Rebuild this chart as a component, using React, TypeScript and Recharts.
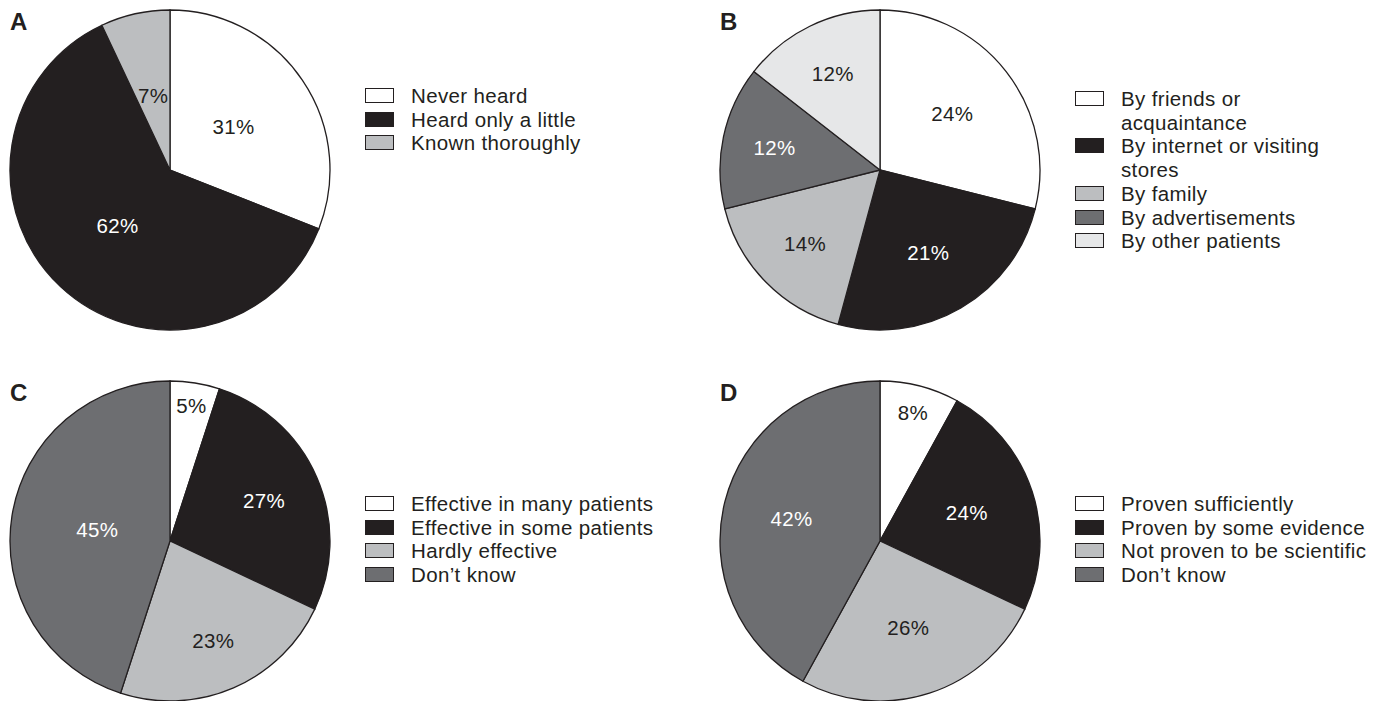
import React from "react";
import { PieChart, Pie, Cell, Legend } from "recharts";

const WHITE = "#ffffff";
const BLACK = "#231f20";
const GRAY = "#bcbec0";
const DARK = "#6d6e71";
const PALE = "#e6e7e8";
const INK = "#231f20";
const FONT = '"Liberation Sans", Arial, Helvetica, sans-serif';

// Panel A: awareness
const aNames = ["Never heard", "Heard only a little", "Known thoroughly"];
const aValues = [31, 62, 7];
const aColors = [WHITE, BLACK, GRAY];

// Panel B: source of information
const bNames = [
  "By friends or acquaintance",
  "By internet or visiting stores",
  "By family",
  "By advertisements",
  "By other patients",
];
const bValues = [24, 21, 14, 12, 12];
const bColors = [WHITE, BLACK, GRAY, DARK, PALE];

// Panel C: perceived effectiveness
const cNames = [
  "Effective in many patients",
  "Effective in some patients",
  "Hardly effective",
  "Don\u2019t know",
];
const cValues = [5, 27, 23, 45];
const cColors = [WHITE, BLACK, GRAY, DARK];

// Panel D: scientific evidence
const dNames = [
  "Proven sufficiently",
  "Proven by some evidence",
  "Not proven to be scientific",
  "Don\u2019t know",
];
const dValues = [8, 24, 26, 42];
const dColors = [WHITE, BLACK, GRAY, DARK];

const RADIAN = Math.PI / 180;
const isDarkFill = (c: string) => c === BLACK || c === DARK;

const TEXT_STYLE = { fontFamily: FONT, fontSize: 20.5, letterSpacing: 0.35 };

interface PanelProps {
  letter: string;
  names: string[];
  values: number[];
  colors: string[];
  left: number;
  top: number;
  labelR: number;
  labelSlope?: number;
  smallR?: number;
  legendTop: number;
  wrapWidth?: number;
}

function LegendBlock({ names, colors, wrapWidth }: { names: string[]; colors: string[]; wrapWidth?: number }) {
  return (
    <div style={{ ...TEXT_STYLE, lineHeight: "23.7px", color: INK }}>
      {names.map((n, i) => (
        <div key={n} style={{ display: "flex", alignItems: "flex-start" }}>
          <span
            style={{
              flex: "none",
              width: 27,
              height: 13,
              marginTop: 4,
              border: `1px solid ${INK}`,
              background: colors[i],
            }}
          />
          <span style={{ marginLeft: 17, maxWidth: wrapWidth }}>{n}</span>
        </div>
      ))}
    </div>
  );
}

function Panel({
  letter,
  names,
  values,
  colors,
  left,
  top,
  labelR,
  labelSlope = 0,
  smallR,
  legendTop,
  wrapWidth,
}: PanelProps) {
  const data = names.map((name, i) => ({ name, value: values[i] }));

  // percentage text inside each slice: narrower slices sit further out,
  // very thin ones get pushed toward the rim
  const renderLabel = (p: any) => {
    const frac = smallR && p.percent < 0.1 ? smallR : labelR - labelSlope * (p.percent - 0.25);
    const r = p.outerRadius * frac;
    const x = p.cx + r * Math.cos(-p.midAngle * RADIAN);
    const y = p.cy + r * Math.sin(-p.midAngle * RADIAN);
    return (
      <text
        x={x}
        y={y}
        textAnchor="middle"
        dominantBaseline="central"
        fontFamily={FONT}
        fontSize={20.5}
        letterSpacing={0.35}
        fill={isDarkFill(colors[p.index]) ? "#ffffff" : INK}
      >
        {`${p.value}%`}
      </text>
    );
  };

  return (
    <div style={{ position: "absolute", left, top }}>
      <PieChart width={690} height={340} margin={{ top: 0, right: 0, bottom: 0, left: 0 }}>
        <text x={10} y={30} fontFamily={FONT} fontWeight="bold" fontSize={24} fill={INK}>
          {letter}
        </text>
        <Pie
          data={data}
          dataKey="value"
          nameKey="name"
          cx={170}
          cy={170}
          outerRadius={160}
          startAngle={90}
          endAngle={-270}
          stroke={INK}
          strokeWidth={1.3}
          label={renderLabel}
          labelLine={false}
          isAnimationActive={false}
        >
          {data.map((d, i) => (
            <Cell key={d.name} fill={colors[i]} />
          ))}
        </Pie>
        <Legend
          layout="vertical"
          align="right"
          verticalAlign="top"
          wrapperStyle={{ left: 365, top: legendTop, width: 320 }}
          content={() => <LegendBlock names={names} colors={colors} wrapWidth={wrapWidth} />}
        />
      </PieChart>
    </div>
  );
}

export default function App() {
  return (
    <div
      style={{
        position: "absolute",
        left: 0,
        top: 0,
        width: 1381,
        height: 701,
        background: "#ffffff",
        overflow: "hidden",
      }}
    >
      <Panel letter="A" names={aNames} values={aValues} colors={aColors} left={0} top={0} labelR={0.48} legendTop={84} />
      <Panel letter="B" names={bNames} values={bValues} colors={bColors} left={710} top={0} labelR={0.6} labelSlope={0.7} legendTop={87} wrapWidth={215} />
      <Panel letter="C" names={cNames} values={cValues} colors={cColors} left={0} top={371} labelR={0.66} labelSlope={1.0} legendTop={121} />
      <Panel letter="D" names={dNames} values={dValues} colors={dColors} left={710} top={371} labelR={0.57} smallR={0.83} legendTop={121} />
    </div>
  );
}
